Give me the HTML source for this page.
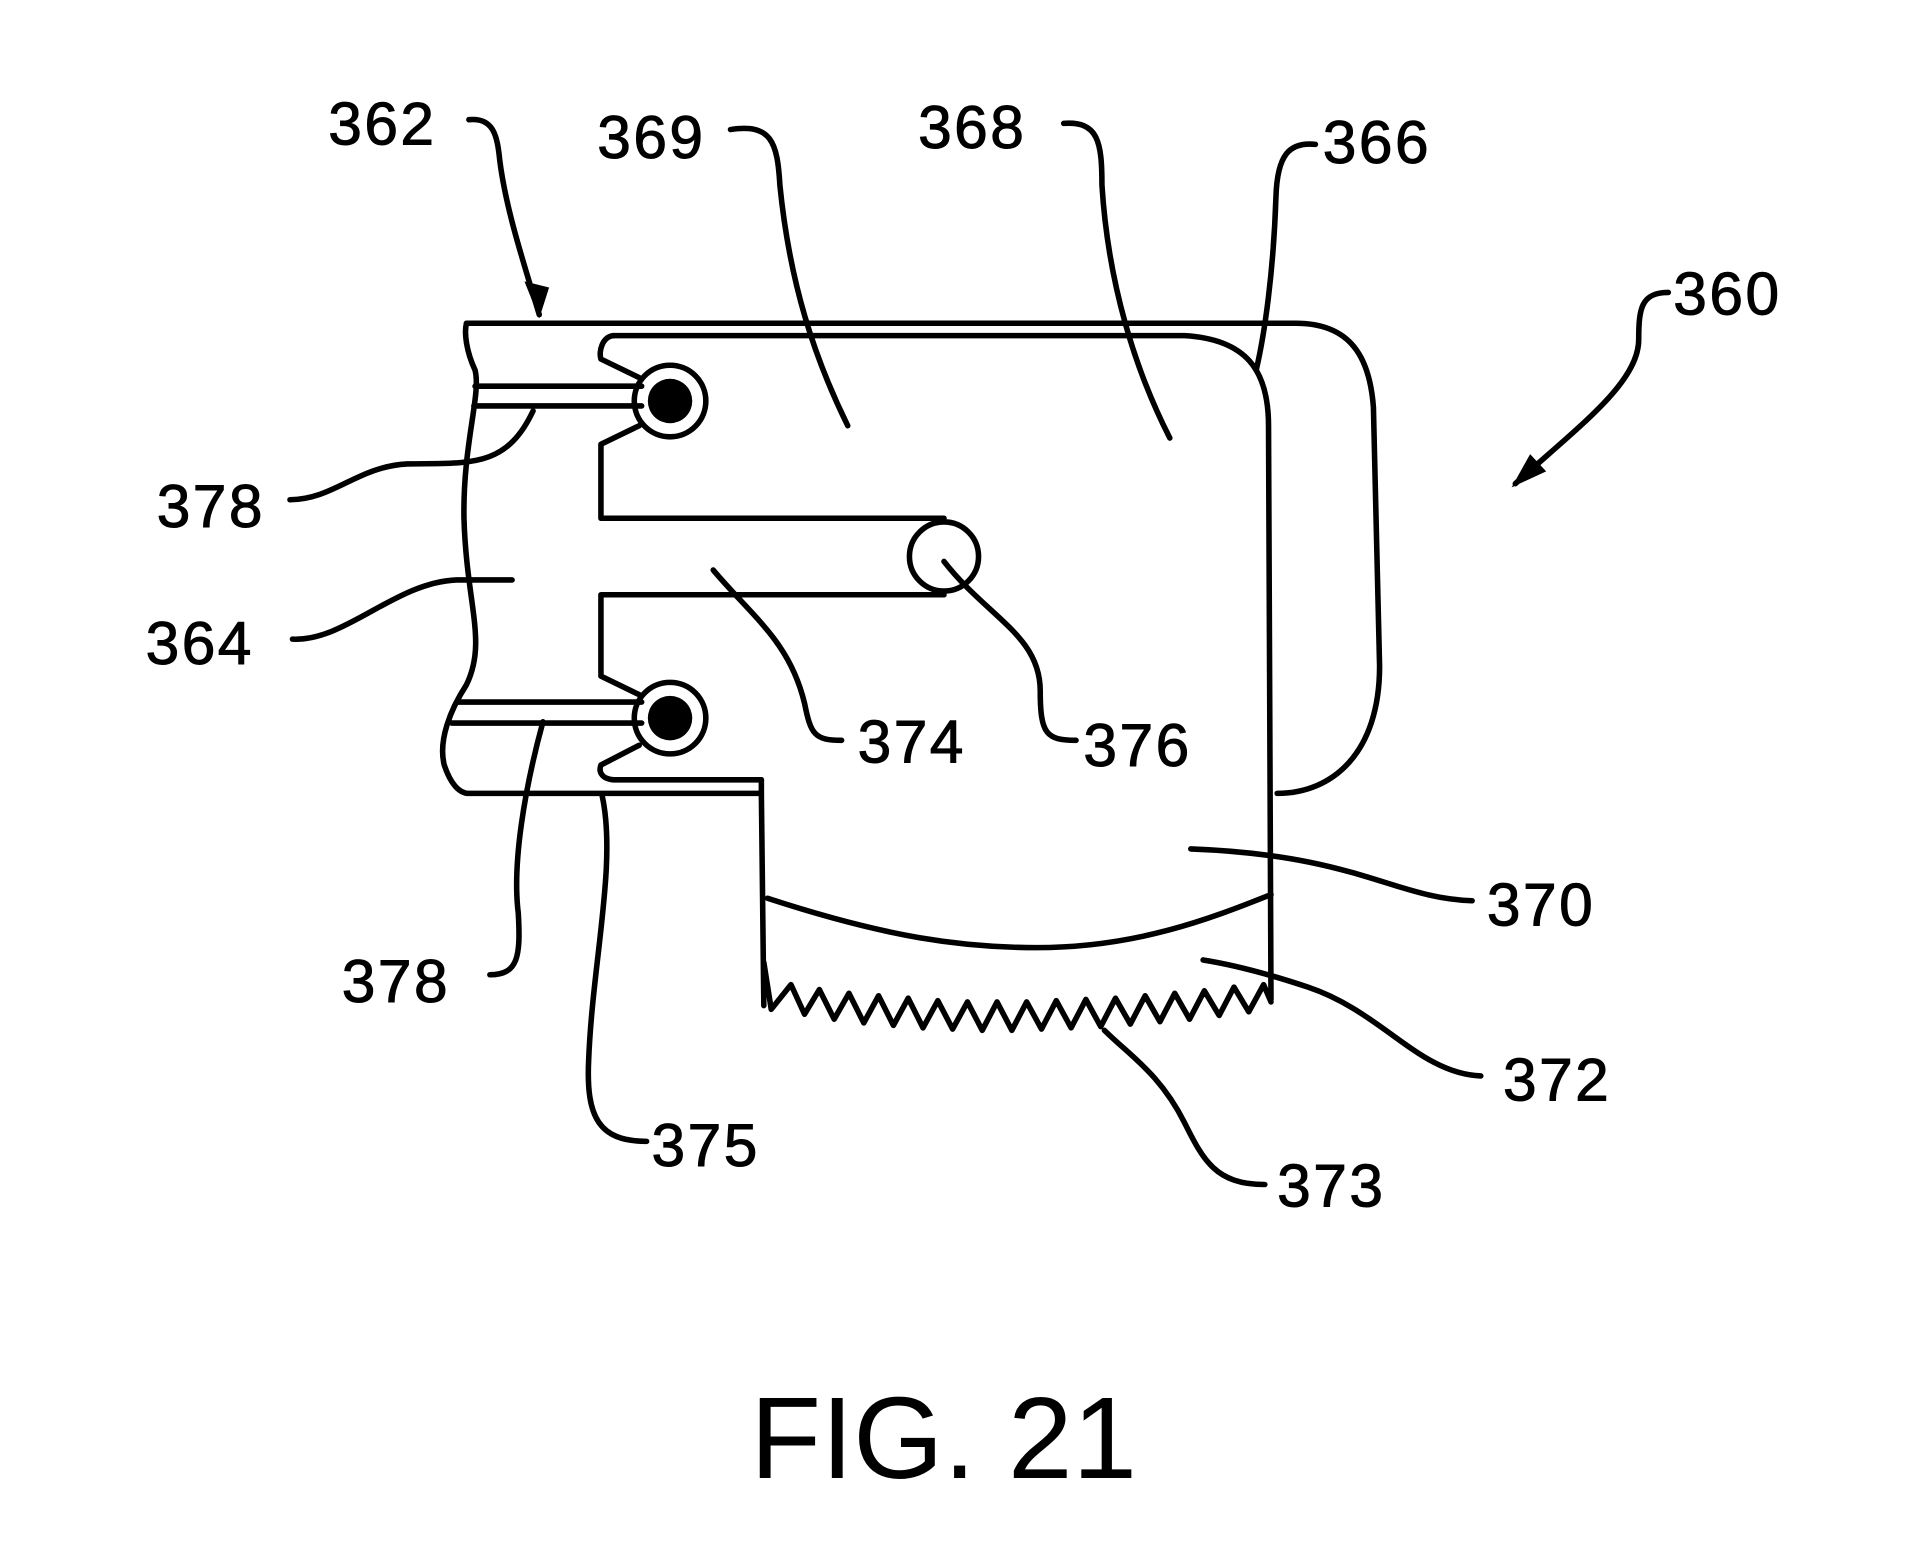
<!DOCTYPE html>
<html><head><style>html,body{margin:0;padding:0;background:#fff}svg{display:block}</style></head><body>
<svg width="1925" height="1551" viewBox="0 0 1560 1257" preserveAspectRatio="none" xmlns="http://www.w3.org/2000/svg">
<g fill="none" stroke="#000" stroke-width="4.5" stroke-linecap="round" stroke-linejoin="round">
<path d="M378,262 L1050,262 C1095,262 1110,290 1113,330 L1118,540 C1118,610 1080,643 1035,643"/>
<path d="M378,262 C376,270 378,285 385,300 C390,320 375,360 376,420 C378,490 395,520 378,555 C365,575 355,600 360,620 C365,635 372,643 380,643 L617,643"/>
<path d="M497,272 L960,272 C1010,275 1028,300 1028,345 L1030,810"/>
<path d="M617,632 L497,632 C487,631 485,625 487,620 L518,604"/>
<path d="M617,632 L617,643 L619,815"/>
<path d="M518,306 L487,291 C485,285 488,273 497,272"/>
<path d="M518,345 L487,360 L487,420 L765,420"/>
<path d="M765,482 L487,482 L487,548 L518,563"/>
<circle cx="765" cy="451" r="28"/>
<circle cx="543" cy="325" r="29"/>
<circle cx="543" cy="582" r="29"/>
<path d="M385,313 L520,313 M384,329 L520,329"/>
<path d="M370,569 L520,569 M366,586 L520,586"/>
<path d="M619,780 L625,818 L641,798 L652,822 L664,802 L676,826 L688,805 L700,829 L712,807 L724,831 L736,809 L748,833 L760,811 L772,834 L784,812 L796,835 L808,812 L820,835 L832,812 L844,834 L856,811 L868,833 L880,810 L892,832 L904,809 L916,830 L928,807 L940,828 L952,805 L964,826 L976,803 L988,823 L1000,800 L1012,820 L1024,798 L1030,812"/>
<path d="M622,728 C720,760 780,768 840,768 C920,768 980,745 1030,725"/>
<path d="M380,97 C400,95 403,110 405,130 C410,170 425,215 437,255"/>
<path d="M592,105 C625,100 630,115 632,150 C640,230 660,290 687,345"/>
<path d="M862,100 C890,98 893,115 893,150 C898,230 920,300 948,355"/>
<path d="M1066,117 C1045,115 1035,125 1034,160 C1032,220 1025,270 1018,300"/>
<path d="M1352,237 C1330,237 1328,250 1328,275 C1328,310 1280,345 1228,392"/>
<path d="M235,405 C270,405 290,378 330,376 C380,375 410,380 432,333"/>
<path d="M237,518 C280,520 320,472 370,470 L415,470"/>
<path d="M682,600 C660,600 657,595 652,570 C640,520 610,500 578,462"/>
<path d="M872,600 C848,600 843,595 843,560 C843,515 800,500 765,455"/>
<path d="M397,790 C420,790 422,775 420,740 C415,700 425,640 440,585"/>
<path d="M524,925 C485,925 475,905 477,860 C480,780 500,700 488,645"/>
<path d="M1193,730 C1130,728 1100,693 965,688"/>
<path d="M1200,872 C1150,870 1120,820 1060,800 C1030,790 1000,782 975,778"/>
<path d="M1025,960 C985,960 975,940 960,910 C940,870 915,855 895,835"/>
</g>
<circle cx="543" cy="325" r="18" fill="#000"/>
<circle cx="543" cy="582" r="18" fill="#000"/>
<path d="M437,258 L425,228 L445,233 Z" fill="#000"/>
<path d="M1225,395 L1240,368 L1253,382 Z" fill="#000"/>
<g font-family="Liberation Sans, sans-serif" font-size="49" fill="#000" stroke="#000" stroke-width="0.8" letter-spacing="2">
<text x="266" y="117">362</text>
<text x="484" y="128">369</text>
<text x="744" y="120">368</text>
<text x="1072" y="132">366</text>
<text x="1356" y="255">360</text>
<text x="127" y="427">378</text>
<text x="118" y="538">364</text>
<text x="695" y="618">374</text>
<text x="878" y="621">376</text>
<text x="277" y="812">378</text>
<text x="528" y="945">375</text>
<text x="1205" y="750">370</text>
<text x="1218" y="892">372</text>
<text x="1035" y="978">373</text>
<text x="608" y="1198" font-size="94" stroke-width="0" letter-spacing="0">FIG. 21</text>
</g>
</svg>
</body></html>
